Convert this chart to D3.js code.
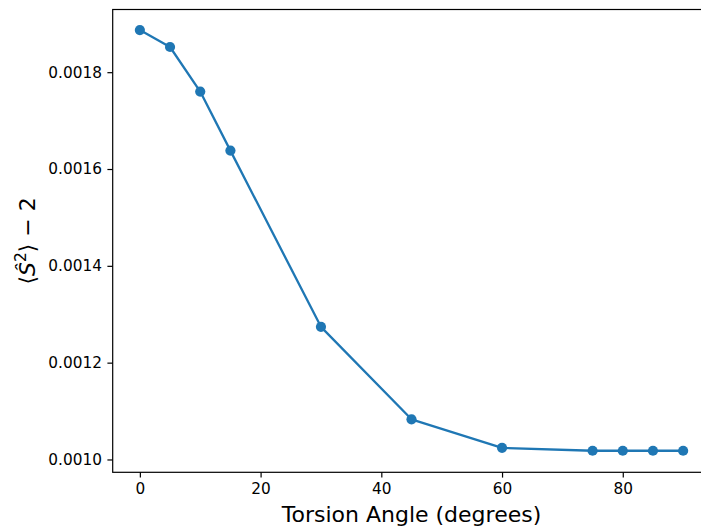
<!DOCTYPE html>
<html>
<head>
<meta charset="utf-8">
<script src="https://cdn.jsdelivr.net/npm/d3@7"></script>
<style>
html,body{margin:0;padding:0;background:#fff;overflow:hidden;}
svg{display:block;font-family:"DejaVu Sans",sans-serif;}
</style>
</head>
<body>
<svg id="chart" width="701" height="527"></svg>
<script>
const angles = [0, 5, 10, 15, 30, 45, 60, 75, 80, 85, 90];
const values = [0.001887, 0.001852, 0.001760, 0.001638, 0.001274, 0.001083, 0.001024, 0.001018, 0.001018, 0.001018, 0.001018];
const xTicks = [0, 20, 40, 60, 80];
const yTicks = [0.0010, 0.0012, 0.0014, 0.0016, 0.0018];
const xLabel = "Torsion Angle (degrees)";

(function () {
const svg = d3.select("#chart");
const mLeft = 112.7, mRight = 710.3, mTop = 9.5, mBottom = 472.3;

const x = d3.scaleLinear().domain([-4.5, 94.5]).range([mLeft, mRight]);
const y = d3.scaleLinear().domain([0.0009735, 0.0019295]).range([mBottom, mTop]);

const color = "#1f77b4";
const pts = angles.map((a, i) => [a, values[i]]);

// line
svg.append("path")
  .datum(pts)
  .attr("fill", "none")
  .attr("stroke", color)
  .attr("stroke-width", 2.3)
  .attr("stroke-linejoin", "round")
  .attr("d", d3.line().x(d => x(d[0])).y(d => y(d[1])));

// markers
svg.append("g").selectAll("circle")
  .data(pts)
  .join("circle")
  .attr("cx", d => x(d[0]))
  .attr("cy", d => y(d[1]))
  .attr("r", 5.1)
  .attr("fill", color);

// axes
const xAxis = d3.axisBottom(x).tickValues(xTicks).tickFormat(d3.format("d"))
  .tickSizeInner(5.3).tickSizeOuter(0).tickPadding(5.6);
const yAxis = d3.axisLeft(y).tickValues(yTicks).tickFormat(d3.format(".4f"))
  .tickSizeInner(5.3).tickSizeOuter(0).tickPadding(5.5);

const gx = svg.append("g").attr("transform", `translate(0,${mBottom})`).call(xAxis);
const gy = svg.append("g").attr("transform", `translate(${mLeft},0)`).call(yAxis);
[gx, gy].forEach(g => {
  g.selectAll(".domain").remove();
  g.selectAll("line").attr("stroke", "#000").attr("stroke-width", 1.2);
  g.selectAll("text").attr("font-family", "DejaVu Sans").attr("font-size", 15.3).attr("fill", "#000");
});

// spines
svg.append("rect")
  .attr("fill", "none").attr("stroke", "#000").attr("stroke-width", 1.2)
  .attr("x", mLeft).attr("y", mTop).attr("width", mRight - mLeft).attr("height", mBottom - mTop);

// x label
svg.append("text")
  .attr("x", 411.5)
  .attr("y", 521.5)
  .attr("text-anchor", "middle")
  .attr("font-size", 22)
  .attr("fill", "#000")
  .text(xLabel);

// y label (math)
const yl = svg.append("text")
  .attr("transform", `translate(35,${(mTop + mBottom) / 2}) rotate(-90)`)
  .attr("text-anchor", "middle")
  .attr("font-size", 22)
  .attr("fill", "#000");
yl.append("tspan").text("\u27E8");
yl.append("tspan").attr("font-style", "italic").text("S\u0302");
yl.append("tspan").attr("font-size", 15.4).attr("dy", -9).text("2");
yl.append("tspan").attr("dy", 9).text("\u27E9 \u2212 2");
})();
</script>
</body>
</html>
